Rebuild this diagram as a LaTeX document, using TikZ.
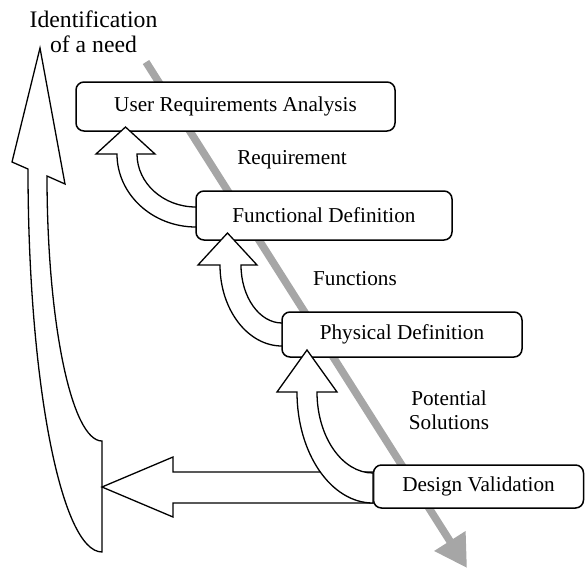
\documentclass[tikz,border=0pt]{standalone}
\usepackage{fontspec}
\setmainfont{Liberation Serif}
\usetikzlibrary{arrows.meta}
\tikzset{
  box/.style={
    draw,
    fill=white,
    rounded corners=4pt,
    line width=0.75pt,
    inner sep=0pt,
    font=\fontsize{10.6}{12.5}\selectfont,
  },
  blockarrow/.style={
    draw,
    fill=white,
    line width=0.65pt,
    line join=miter,
  },
  flow/.style={
    draw=black!35,
    line width=3.8pt,
    -{Triangle[length=16pt,width=17.5pt]},
  },
  lbl/.style={
    align=center,
    font=\fontsize{10.6}{12}\selectfont,
  },
}

\begin{document}
\begin{tikzpicture}[x=0.5pt,y=-0.5pt]
  \useasboundingbox (0,0) rectangle (585,569);
  % grey process line behind everything
  \draw[flow] (146,62) -- (467,568);
  % the steps
  \node[box,minimum width=159.5pt,minimum height=24.5pt] (ura) at (235.5,106.5) {User Requirements Analysis};
  \node[box,minimum width=128pt,minimum height=24.5pt] (fd) at (324,215.5) {Functional Definition};
  \node[box,minimum width=120pt,minimum height=22.5pt] (pd) at (402,334.5) {Physical Definition};
  \node[box,minimum width=105pt,minimum height=21.5pt] (dv) at (478.5,486.5) {Design Validation};
  % texts between the steps
  \node[lbl] (req) at (292,160) {Requirement};
  \node[lbl] (fun) at (355,279) {Functions};
  \node[lbl] (sol) at (449,410) {Potential\\Solutions};
  \node[lbl,font=\fontsize{11.85}{12.5}\selectfont] (need) at (93.5,31.5) {Identification\\of a need};
  % back to the need
  \draw[blockarrow] (40,48) -- (65,184) -- (47,176)
    .. controls (47,322.4) and (71.6,441) .. (102,441) -- (102,552)
    .. controls (61.1,552) and (28,380.5) .. (28,169) -- (12,162) -- cycle;
  \draw[blockarrow] (102,487) -- (173,457) -- (173,472) -- (373,472)
    -- (373,503) -- (173,503) -- (173,517) -- cycle;
  % feedback arrows
  \draw[blockarrow] (125.5,127) -- (155,154) -- (137,154)
    .. controls (137,183.3) and (163.4,207) .. (196,207) -- (196,227)
    .. controls (152.4,227) and (117,194.3) .. (117,154) -- (96,154) -- cycle;
  \draw[blockarrow] (227.5,233) -- (257,265) -- (241,265)
    .. controls (241,297) and (259.4,323) .. (282,323) -- (282,346)
    .. controls (247.8,346) and (220,309.7) .. (220,265) -- (198,265) -- cycle;
  \draw[blockarrow] (307,350) -- (337,392) -- (317,392)
    .. controls (317,436.7) and (342.1,473) .. (373,473) -- (373,503)
    .. controls (331,503) and (297,453.3) .. (297,392) -- (277,392) -- cycle;
\end{tikzpicture}
\end{document}
